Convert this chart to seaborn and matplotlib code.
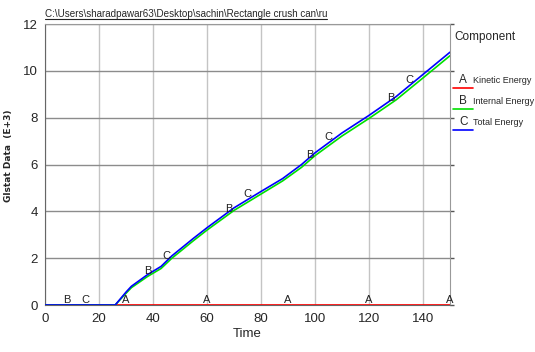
import numpy as np
import pandas as pd
import seaborn as sns
import matplotlib.pyplot as plt
from matplotlib.lines import Line2D
from matplotlib.ticker import MultipleLocator

# values
time = [0, 26, 30, 32, 38, 43, 47, 55, 60, 70, 80, 88, 95, 100, 110, 120, 130, 140, 150]
total_energy = [0, 0, 0.55, 0.8, 1.3, 1.65, 2.1, 2.85, 3.3, 4.15, 4.85, 5.4, 6.0, 6.5, 7.35, 8.1, 8.9, 9.85, 10.8]
internal_energy = [0, 0, 0.5, 0.74, 1.22, 1.56, 2.0, 2.75, 3.2, 4.04, 4.74, 5.3, 5.88, 6.38, 7.22, 7.97, 8.76, 9.7, 10.65]
kinetic_energy = [0, 0, 0, 0, 0, 0, 0, 0, 0, 0, 0, 0, 0, 0, 0, 0, 0, 0, 0]

components = ['Kinetic Energy', 'Internal Energy', 'Total Energy']
letters = ['A', 'B', 'C']
colors = ['#ff0000', '#00e000', '#0000ff']
# where the curve letters sit along time
letter_times = [[30, 60, 90, 120, 150], [8, 38, 68, 98, 128], [15, 45, 75, 105, 135]]

title = r'C:\Users\sharadpawar63\Desktop\sachin\Rectangle crush can\ru'

sns.set_style('white')
plt.rcParams['font.family'] = ['Liberation Sans', 'DejaVu Sans']

df = pd.DataFrame({'Time': time * 3,
                   'value': kinetic_energy + internal_energy + total_energy,
                   'Component': [c for c in components for _ in time]})

fig = plt.figure(figsize=(5.35, 3.52), dpi=100)
ax = fig.add_axes([0.0841, 0.1335, 0.757, 0.798])

sns.lineplot(data=df, x='Time', y='value', hue='Component', hue_order=components,
             palette=colors, ax=ax, legend=False, lw=1.2)
# blue sits on top along the zero line like in the original
for ln, z in zip(ax.lines, [3, 4, 5]):
    ln.set_zorder(z)

series = [kinetic_energy, internal_energy, total_energy]
for let, ts, vals in zip(letters, letter_times, series):
    for t in ts:
        ax.text(t, np.interp(t, time, vals) + 0.02, let, fontsize=8, ha='center', va='bottom',
                color='#222222', zorder=6)

ax.set_xlim(0, 150)
ax.set_ylim(0, 12)
ax.xaxis.set_major_locator(MultipleLocator(20))
ax.xaxis.set_minor_locator(MultipleLocator(10))
ax.yaxis.set_major_locator(MultipleLocator(2))
ax.yaxis.set_minor_locator(MultipleLocator(1))
ax.xaxis.grid(True, which='major', color='#c4c4c4', lw=1)
ax.yaxis.grid(True, which='major', color='#8c8c8c', lw=1)
ax.set_axisbelow(True)
ax.tick_params(axis='both', which='major', direction='out', length=4, width=1,
               labelsize=9.5, color='#555555', pad=2)
ax.tick_params(axis='both', which='minor', direction='in', length=5, width=1, color='#555555')
ax.tick_params(axis='y', which='major', right=True, direction='out', length=3)

ax.spines['left'].set_color('#666666')
ax.spines['right'].set_color('#999999')
ax.spines['top'].set_color('#999999')
ax.spines['bottom'].set_color('#666666')

ax.set_xlabel('Time', fontsize=9.5, labelpad=2)
ax.set_ylabel('Glstat Data  (E+3)', fontsize=6.5, fontweight='bold', family=['DejaVu Sans'])
ax.yaxis.set_label_coords(-0.08, 0.53)

t = fig.text(0.0841, 0.945, title, fontsize=7.1, ha='left', va='bottom')
fig.canvas.draw()
bb = t.get_window_extent().transformed(fig.transFigure.inverted())
fig.add_artist(Line2D([bb.x0, bb.x1], [bb.y0 + 0.002, bb.y0 + 0.002], color='#222222', lw=0.8))

# legend drawn by hand: letter over a short coloured line, then the label
fig.text(0.850, 0.895, 'Component', fontsize=8.5, ha='left', va='center')
for i, (let, comp, col) in enumerate(zip(letters, components, colors)):
    y = 0.772 - i * 0.060
    fig.text(0.866, y, let, fontsize=8.5, ha='center', va='center')
    fig.add_artist(Line2D([0.847, 0.884], [y - 0.022, y - 0.022], color=col, lw=1.2))
    fig.text(0.884, y, comp, fontsize=6.5, ha='left', va='center')

fig.savefig('out.png', dpi=100)
